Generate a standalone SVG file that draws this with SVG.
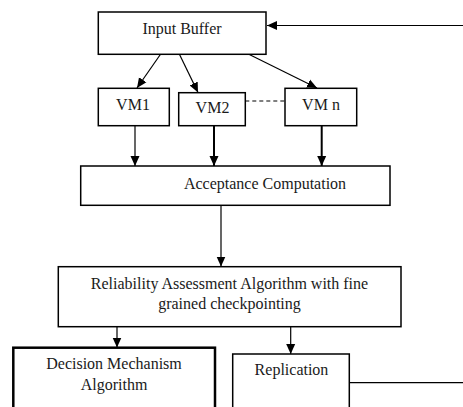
<svg xmlns="http://www.w3.org/2000/svg" width="463" height="407" viewBox="0 0 463 407">
<style>
.box{fill:#fff;stroke:#000;stroke-width:1.5}
.thick{stroke-width:2.5}
text{font-family:"Liberation Serif","Times New Roman",serif;font-size:16px;fill:#1a1a1a;text-anchor:middle}
.ln{stroke:#000;fill:none;stroke-width:1.2}
.lnb{stroke:#000;fill:none;stroke-width:2}
.dash{stroke:#000;stroke-width:1.2;stroke-dasharray:4,3;fill:none}
</style>
<defs>
<marker id="ah" markerUnits="userSpaceOnUse" markerWidth="10" markerHeight="10" viewBox="0 0 10 10" refX="10" refY="5" orient="auto">
<path d="M0,0.5 L10,5 L0,9.5 Z" fill="#000"/>
</marker>
</defs>
<g id="connectors">
<line class="ln" x1="463" y1="25.5" x2="267" y2="25.5" marker-end="url(#ah)"/>
<line class="ln" x1="160.7" y1="54" x2="137" y2="88" marker-end="url(#ah)"/>
<line class="ln" x1="179.3" y1="54" x2="198" y2="92.5" marker-end="url(#ah)"/>
<line class="ln" x1="248.3" y1="54" x2="317" y2="88" marker-end="url(#ah)"/>
<line class="dash" x1="245.3" y1="101" x2="285" y2="101"/>
<line class="ln" x1="135" y1="125.7" x2="135" y2="166" marker-end="url(#ah)"/>
<line class="lnb" x1="214" y1="125.7" x2="214" y2="166" marker-end="url(#ah)"/>
<line class="lnb" x1="321.7" y1="125.7" x2="321.7" y2="166" marker-end="url(#ah)"/>
<line class="ln" x1="221" y1="205.3" x2="221" y2="266.5" marker-end="url(#ah)"/>
<line class="ln" x1="117" y1="326.7" x2="117" y2="347.5" marker-end="url(#ah)"/>
<line class="ln" x1="290.7" y1="326.7" x2="290.7" y2="354" marker-end="url(#ah)"/>
<line class="ln" x1="349.3" y1="382.7" x2="463" y2="382.7"/>
</g>
<g id="input-buffer">
<rect class="box" x="98.3" y="12" width="167.7" height="42.3"/>
<text x="182" y="33.5">Input Buffer</text>
</g>
<g id="vm1">
<rect class="box" x="98.3" y="88.3" width="71" height="37.4"/>
<text x="133" y="110">VM1</text>
</g>
<g id="vm2">
<rect class="box" x="178.7" y="92.7" width="66.6" height="33"/>
<text x="212.5" y="113">VM2</text>
</g>
<g id="vmn">
<rect class="box" x="285" y="88.3" width="71.7" height="37.4"/>
<text x="321" y="110">VM n</text>
</g>
<g id="acceptance">
<rect class="box" x="80.7" y="166" width="309.3" height="39.3"/>
<text x="265" y="189">Acceptance Computation</text>
</g>
<g id="reliability">
<rect class="box" x="58.3" y="266.7" width="342.7" height="60"/>
<text x="229.5" y="288.5">Reliability Assessment Algorithm with fine</text>
<text x="229.5" y="309">grained checkpointing</text>
</g>
<g id="decision">
<rect class="box thick" x="13.3" y="347.7" width="201.7" height="70"/>
<text x="114" y="369">Decision Mechanism</text>
<text x="114" y="390">Algorithm</text>
</g>
<g id="replication">
<rect class="box" x="232.7" y="354" width="116.6" height="70"/>
<text x="291.5" y="375">Replication</text>
</g>
</svg>
